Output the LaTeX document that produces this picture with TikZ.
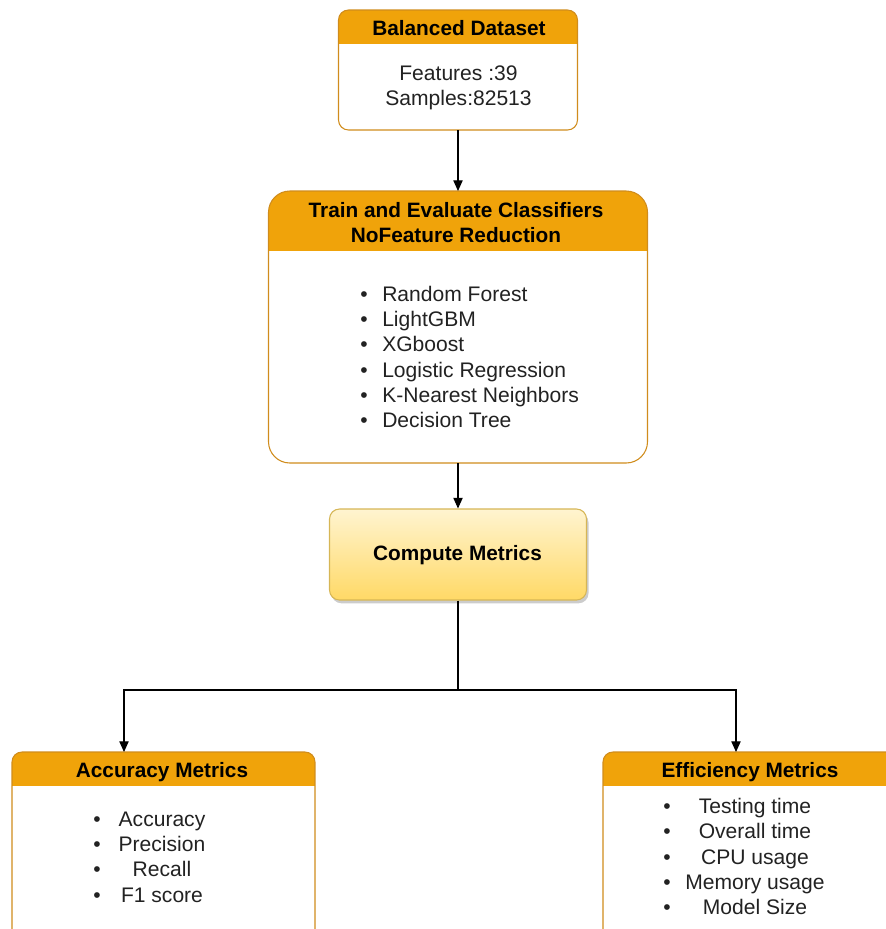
\documentclass[tikz,border=0pt]{standalone}
\usepackage{fontspec}
\setmainfont{Liberation Sans}
\usetikzlibrary{arrows.meta,shadows}
\definecolor{hdrfill}{HTML}{F0A30A}
\definecolor{hdrline}{HTML}{D08C1C}
\definecolor{cmtop}{HTML}{FFF4D0}
\definecolor{cmbot}{HTML}{FFD966}
\definecolor{cmline}{HTML}{D6B656}
\definecolor{bodytext}{HTML}{222222}
\begin{document}
\begin{tikzpicture}[x=0.75pt,y=-0.75pt,
  lane/.style n args={3}{draw=hdrline, line width=0.8pt, fill=white,
    rounded corners=#1, inner sep=0pt, outer sep=0pt,
    minimum width=#2, minimum height=#3},
  hdr/.style={path picture={\fill[hdrfill, sharp corners] ([yshift=2pt]path picture bounding box.north west) rectangle ([yshift=-#1]path picture bounding box.north east);}},
  ttl/.style={font=\bfseries\fontsize{15.6}{18.75}\selectfont, text=black, inner sep=0pt, align=center},
  body/.style={font=\fontsize{15.8}{19}\selectfont, text=bodytext, inner sep=0pt},
  arr/.style={draw=black, line width=0.8pt, -{Triangle[length=8pt,width=7pt]}},
  link/.style={draw=black, line width=0.8pt}
]
\useasboundingbox (0,0) rectangle (886,929);
\clip (0,0) rectangle (886,929);

% Box 1
\node[lane={7.5pt}{179.25pt}{90pt}, hdr=25.5pt] (ds) at (458,70) {};
\node[ttl] (dst) at (459,28.5) {Balanced Dataset};
\node[body, align=center] (dsb) at (458.5,88) {\strut Features :39\\\strut Samples:82513};

% Box 2
\node[lane={16pt}{284.25pt}{204pt}, hdr=45pt] (tr) at (458,327) {};
\node[ttl] (trt) at (456,224.5) {\strut Train and Evaluate Classifiers\\\strut NoFeature Reduction};
\node[body, align=center] (trb) at (364,359.5) {\strut\textbullet\\\strut\textbullet\\\strut\textbullet\\\strut\textbullet\\\strut\textbullet\\\strut\textbullet};
\node[body, align=left, anchor=west] (trl) at (382,359.5) {\strut Random Forest\\\strut LightGBM\\\strut XGboost\\\strut Logistic Regression\\\strut K-Nearest Neighbors\\\strut Decision Tree};

% Compute metrics
\node[draw=cmline, line width=0.8pt, rounded corners=7.5pt, top color=cmtop, bottom color=cmbot,
  minimum width=192.75pt, minimum height=68.25pt, inner sep=0pt,
  drop shadow={shadow xshift=1.5pt, shadow yshift=-2.5pt, opacity=0.2, fill=black}] (cm) at (458,554.5) {};
\node[ttl] (cmt) at (457.5,555) {Compute Metrics};

% Accuracy metrics
\node[lane={7.5pt}{227.25pt}{141pt}, hdr=25.5pt] (acc) at (163.5,846) {};
\node[ttl] (acct) at (162,772) {Accuracy Metrics};
\node[body, align=center] (accb) at (97,859) {\strut\textbullet\\\strut\textbullet\\\strut\textbullet\\\strut\textbullet};
\node[body, align=center] (accl) at (162,859) {\strut Accuracy\\\strut Precision\\\strut Recall\\\strut F1 score};

% Efficiency metrics
\node[lane={7.5pt}{220.5pt}{141pt}, hdr=25.5pt] (eff) at (750,846) {};
\node[ttl] (efft) at (750,772) {Efficiency Metrics};
\node[body, align=center] (effb) at (667,859) {\strut\textbullet\\\strut\textbullet\\\strut\textbullet\\\strut\textbullet\\\strut\textbullet};
\node[body, align=center] (effl) at (755,859) {\strut Testing time\\\strut Overall time\\\strut CPU usage\\\strut Memory usage\\\strut Model Size};

% connectors
\coordinate (accin) at (124,752);
\coordinate (effin) at (736,752);
\coordinate (split) at (458,690);
\draw[arr] (ds.south) -- (tr.north);
\draw[arr] (tr.south) -- (cm.north);
\draw[link] (cm.south) -- (split);
\draw[arr] (split) -| (accin);
\draw[arr] (split) -| (effin);
\end{tikzpicture}
\end{document}
